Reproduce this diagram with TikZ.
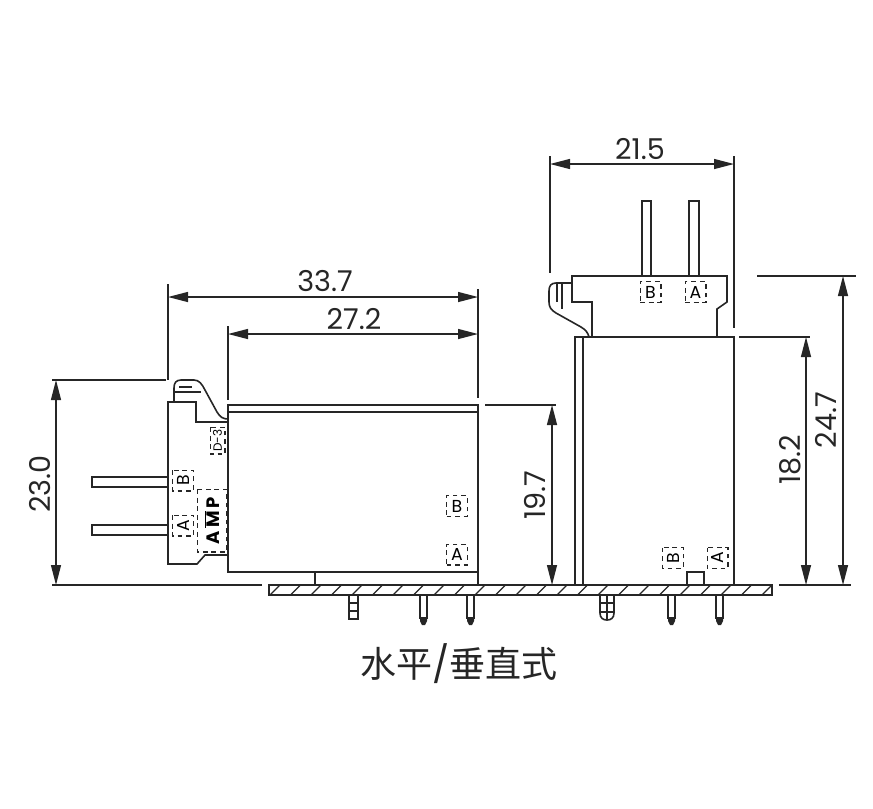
\documentclass[tikz,border=0pt]{standalone}
\usepackage{fontspec}
\setmainfont{Poppins}
\newfontfamily\cjk{Noto Sans CJK SC}
\usetikzlibrary{arrows.meta}

\tikzset{%
    part/.style = {%
        line width = 1.2pt,
        color = black!85
    },
    dimline/.style = {%
        line width = 1pt,
        color = black!85,
        <->,
        >={Stealth[length = 15pt, width = 7.5pt, inset = 0pt]}
    },
    extline/.style = {%
        line width = 1pt,
        color = black!85
    },
    dimtext/.style = {%
        font = \fontsize{21.5}{21.5}\selectfont,
        text = black!85,
        inner sep = 0pt
    },
    tagbox/.style = {%
        draw = black!85,
        line width = 1pt,
        dash pattern = on 3.6pt off 2.8pt,
        minimum width = 15.5pt,
        minimum height = 15.5pt,
        inner sep = 0pt,
        font = \fontsize{13}{13}\selectfont
    }
}

\begin{document}
\begin{tikzpicture}[x = 0.75pt, y = -0.75pt]
    \useasboundingbox (0, 0) rectangle (873, 808);

    % Relay on its side.
    \begin{scope}[part]
        \draw (228, 405) rectangle (478, 572);
        \draw (228, 412) -- (478, 412);
        \draw (478, 572) -- (478, 585);
        \draw (315, 572) -- (315, 585);
        \draw (228, 422) -- (196, 422) -- (196, 402) -- (168, 402) -- (168, 564)
            -- (197, 564) -- (205, 555) -- (228, 555);
        \draw (174, 402) -- (174, 388) .. controls (174, 383) and (176, 380) .. (181, 380)
            -- (194, 380) .. controls (199, 380) and (202, 384) .. (205, 390)
            -- (217, 412) .. controls (220, 417) and (223, 419) .. (228, 419);
        \draw (179, 387) -- (192, 387);
        \draw (174, 392) -- (201, 392);
        \draw (168, 477) -- (92, 477) -- (92, 487) -- (168, 487);
        \draw (168, 525) -- (92, 525) -- (92, 535) -- (168, 535);
    \end{scope}

    % Upright relay.
    \begin{scope}[part]
        \draw (575, 337) rectangle (734, 585);
        \draw (583, 337) -- (583, 585);
        \draw (687, 585) -- (687, 572) -- (704, 572) -- (704, 585);
        \draw (592, 337) -- (592, 302) -- (572, 302) -- (572, 276) -- (727, 276)
            -- (727, 302) -- (717, 309) -- (717, 337);
        \draw (572, 283) -- (556, 283) .. controls (551, 283) and (549, 286) .. (549, 291)
            -- (549, 302) .. controls (549, 307) and (551, 310) .. (556, 313)
            -- (581, 327) .. controls (586, 330) and (588, 333) .. (589, 337);
        \draw (557, 283) -- (557, 302);
        \draw (562, 283) -- (562, 309);
        \draw (642, 276) -- (642, 201) -- (651, 201) -- (651, 276);
        \draw (689, 276) -- (689, 201) -- (699, 201) -- (699, 276);
    \end{scope}

    % Board with hatching and the pins below it.
    \begin{scope}[part]
        \draw (269, 585) rectangle (772, 595);
        \foreach \n in {0, ..., 24} {
            \draw [line width = 1pt] (270 + 20.5 * \n, 595) -- (280 + 20.5 * \n, 585);
        }
        \foreach \pinx in {420, 467, 668, 716} {
            \draw (\pinx, 595) rectangle (\pinx + 7, 618);
            \fill [black!85] (\pinx, 617) -- (\pinx + 7, 617) -- (\pinx + 7, 621)
                -- (\pinx + 5, 625) -- (\pinx + 2, 625) -- (\pinx, 621) -- cycle;
        }
        \draw (349, 595) rectangle (358, 619);
        \draw (349, 603) -- (358, 603);
        \draw (349, 611) -- (358, 611);
        \draw (600, 595) -- (600, 613) .. controls (600, 618) and (603, 620) .. (607, 620)
            .. controls (611, 620) and (614, 618) .. (614, 613) -- (614, 595);
        \draw (607, 595) -- (607, 620);
        \draw (600, 603) -- (614, 603);
        \draw (600, 612) -- (614, 612);
    \end{scope}

    % Terminal tags.
    \begin{scope}[every node/.style = {tagbox}]
        \node [rotate = 90] (tagB1) at (183, 480.5) {B};
        \node [rotate = 90] (tagA1) at (183, 525.5) {A};
        \node (tagB2) at (457, 506) {B};
        \node (tagA2) at (457, 554.5) {A};
        \node (tagB3) at (650.5, 292) {B};
        \node (tagA3) at (695.5, 292) {A};
        \node [rotate = 90] (tagB4) at (673, 558) {B};
        \node [rotate = 90] (tagA4) at (717.5, 558) {A};
        \node [rotate = 90, minimum width = 20pt, minimum height = 11pt,
            font = \fontsize{9}{9}\selectfont] (tagD) at (217.5, 440.5) {D-3};
        \node [rotate = 90, minimum width = 47pt, minimum height = 22pt,
            font = \fontsize{13.5}{13.5}\bfseries\selectfont] (tagAMP) at (212, 520.5)
            {A\,$\overline{\hbox{M}}$\,P};
    \end{scope}

    % Ends of the dimension lines.
    \coordinate (w1L) at (168, 297);
    \coordinate (w1R) at (478, 297);
    \coordinate (w2L) at (228, 334);
    \coordinate (w2R) at (478, 334);
    \coordinate (w3L) at (550, 164);
    \coordinate (w3R) at (734, 164);
    \coordinate (h1T) at (56, 380);
    \coordinate (h1B) at (56, 585);
    \coordinate (h2T) at (552, 405);
    \coordinate (h2B) at (552, 585);
    \coordinate (h3T) at (806, 337);
    \coordinate (h3B) at (806, 585);
    \coordinate (h4T) at (843, 276);
    \coordinate (h4B) at (843, 585);

    % Dimension lines.
    \draw [dimline] (w1L) -- (w1R);
    \draw [dimline] (w2L) -- (w2R);
    \draw [dimline] (w3L) -- (w3R);
    \draw [dimline] (h1T) -- (h1B);
    \draw [dimline] (h2T) -- (h2B);
    \draw [dimline] (h3T) -- (h3B);
    \draw [dimline] (h4T) -- (h4B);

    % Extension lines.
    \begin{scope}[extline]
        \draw (168, 284) -- (168, 380);
        \draw (166, 380) -- (52, 380);
        \draw (478, 289) -- (478, 398);
        \draw (228, 326) -- (228, 400);
        \draw (550, 156) -- (550, 273);
        \draw (734, 156) -- (734, 328);
        \draw (52, 585) -- (262, 585);
        \draw (485, 405) -- (556, 405);
        \draw (739, 337) -- (810, 337);
        \draw (757, 276) -- (856, 276);
        \draw (779, 585) -- (851, 585);
    \end{scope}

    % Dimension texts.
    \begin{scope}[every node/.style = {dimtext}]
        \node (lblA) at (325, 281) {33.7};
        \node (lblB) at (354, 319) {27.2};
        \node (lblC) at (640, 149) {21.5};
        \node [rotate = 90] (lblD) at (40, 484) {23.0};
        \node [rotate = 90] (lblE) at (535, 495) {19.7};
        \node [rotate = 90] (lblF) at (790, 460) {18.2};
        \node [rotate = 90] (lblG) at (826, 420) {24.7};
    \end{scope}

    \node [font = \fontsize{27}{27}\selectfont, text = black!85] (caption) at (459, 664)
        {{\cjk 水平}/{\cjk 垂直式}};
\end{tikzpicture}
\end{document}
